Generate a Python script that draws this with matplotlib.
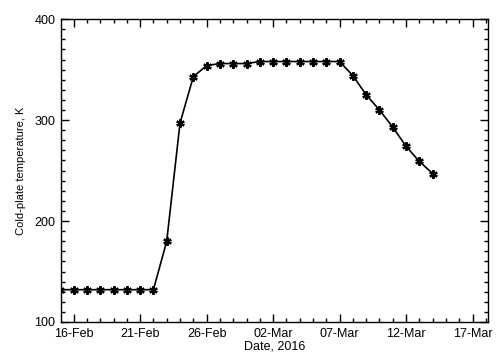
import matplotlib
matplotlib.use("Agg")
import matplotlib.pyplot as plt
import matplotlib.dates as mdates
from matplotlib.ticker import MultipleLocator
import numpy as np
from datetime import datetime, timedelta

dates = ["2016-02-15", "2016-02-16", "2016-02-17", "2016-02-18", "2016-02-19",
         "2016-02-20", "2016-02-21", "2016-02-22", "2016-02-23", "2016-02-24",
         "2016-02-25", "2016-02-26", "2016-02-27", "2016-02-28", "2016-02-29",
         "2016-03-01", "2016-03-02", "2016-03-03", "2016-03-04", "2016-03-05",
         "2016-03-06", "2016-03-07", "2016-03-08", "2016-03-09", "2016-03-10",
         "2016-03-11", "2016-03-12", "2016-03-13", "2016-03-14"]
temps = [132, 132, 132, 132, 132, 132, 132, 132, 180, 297,
         343, 354, 356, 356, 356, 358, 358, 358, 358, 358,
         358, 358, 344, 325, 310, 293, 274, 259, 247]
tick_dates = ["2016-02-16", "2016-02-21", "2016-02-26", "2016-03-02",
              "2016-03-07", "2016-03-12", "2016-03-17"]
tick_labels = ["16-Feb", "21-Feb", "26-Feb", "02-Mar", "07-Mar", "12-Mar", "17-Mar"]

plt.rcParams['font.family'] = ['Liberation Sans', 'DejaVu Sans']

fig = plt.figure(figsize=(5.0, 3.54), dpi=100)
ax = fig.add_axes([0.122, 0.0904, 0.854, 0.8556])

x = [mdates.date2num(datetime.strptime(d, "%Y-%m-%d")) for d in dates]
ax.plot(x, temps, color='black', lw=1.2, marker=(6, 2, 0), ms=6, mew=1.6,
        clip_on=True)

tx = [mdates.date2num(datetime.strptime(d, "%Y-%m-%d")) for d in tick_dates]
ax.set_xticks(tx)
ax.set_xticklabels(tick_labels)
ax.xaxis.set_minor_locator(MultipleLocator(1))
ax.set_xlim(tx[0] - 0.95, tx[-1] + 1.16)

ax.set_ylim(100, 400)
ax.set_yticks([100, 200, 300, 400])
ax.yaxis.set_minor_locator(MultipleLocator(10))

ax.tick_params(which='both', direction='in', top=True, right=True,
               labelsize=9, color='black', width=1.0, pad=4)
ax.tick_params(which='major', length=6)
ax.tick_params(which='minor', length=3)
for s in ax.spines.values():
    s.set_linewidth(1.0)

ax.set_xlabel("Date, 2016", fontsize=9, labelpad=1)
ax.set_ylabel("Cold-plate temperature, K", fontsize=8, labelpad=6)

fig.savefig("out.png", dpi=100)
